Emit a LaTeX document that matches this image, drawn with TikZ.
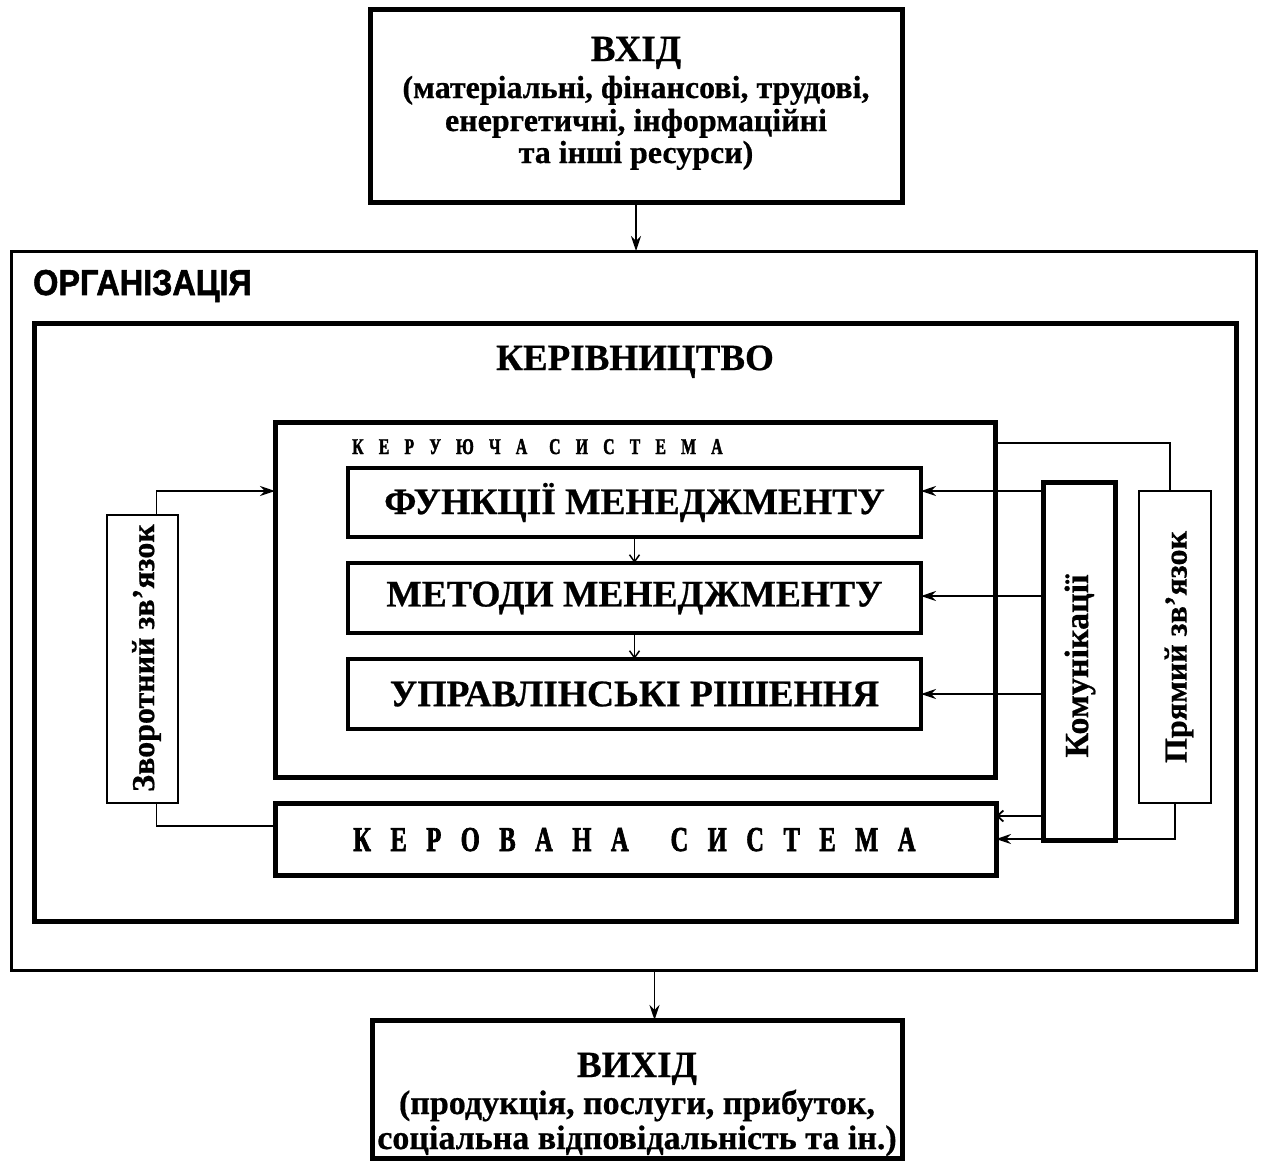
\documentclass[tikz,border=0pt]{standalone}
\usepackage{fontspec}
\setmainfont[BoldFeatures={FakeBold=0.6}]{Liberation Serif}
\newfontfamily\orgfont[FakeStretch=0.9,FakeBold=1.6]{Liberation Sans Bold}
\newfontfamily\condserif[FakeStretch=0.7,FakeBold=1.8]{Liberation Serif Bold}
\usetikzlibrary{arrows.meta}
\newcommand{\mysg}{\hspace{15.2pt}}
\newcommand{\mybg}{\hspace{22pt}}
\newcommand{\mysG}{\hspace{19.5pt}}
\newcommand{\mybG}{\hspace{42pt}}
\begin{document}
\begin{tikzpicture}[x=1pt,y=-1pt,
  box/.style={draw,rectangle,inner sep=0pt,outer sep=0pt,font=\bfseries},
  thickbox/.style={box,line width=5pt},
  midbox/.style={box,line width=3.5pt},
  thinbox/.style={box,line width=2pt},
  conn/.style={line width=1.8pt},
  arr/.style={conn,-{Stealth[length=15pt,width=10pt,inset=5pt]}},
  sarr/.style={line width=1.5pt,-{Straight Barb[length=7pt,width=10pt]}},
  fs/.style={font=\fontsize{#1}{#1}\selectfont\bfseries},
  txt/.style={inner sep=0pt,anchor=base,fs=#1}
]
\useasboundingbox (0,0) rectangle (1266,1162);
\coordinate (y443) at (0,443);
\coordinate (y491) at (0,491);
\coordinate (y596) at (0,596);
\coordinate (y694) at (0,694);
\coordinate (y816) at (0,816);
\coordinate (y839) at (0,839);
\coordinate (y826) at (0,826);

% input box
\node[thickbox,minimum width=532pt,minimum height=193pt] (vhid) at (636,105.5) {};
\node[txt=37] (vhid1) at (636,61) {ВХІД};
\node[txt=32] (vhid2) at (636,98) {(матеріальні, фінансові, трудові,};
\node[txt=32] (vhid3) at (636,131) {енергетичні, інформаційні};
\node[txt=32] (vhid4) at (636,163) {та інші ресурси)};

% organisation
\node[box,line width=3pt,minimum width=1245pt,minimum height=719pt] (org) at (633.5,610.5) {};
\node[anchor=base west,inner sep=0pt,font=\orgfont\fontsize{36}{36}\selectfont] (orgt) at (33,295) {ОРГАНІЗАЦІЯ};
\node[thickbox,minimum width=1202pt,minimum height=598pt] (kerivn) at (635,622) {};
\node[txt=37] (kerivnt) at (635,370) {КЕРІВНИЦТВО};

% control system
\node[thickbox,minimum width=720pt,minimum height=355pt] (kersys) at (635,599.5) {};
\node[anchor=base west,inner sep=0pt,font=\condserif\fontsize{22.5}{22.5}\selectfont] (kersyst) at (352,454)
  {К\mysg Е\mysg Р\mysg У\mysg Ю\mysg Ч\mysg А\mybg С\mysg И\mysg С\mysg Т\mysg Е\mysg М\mysg А};
\node[midbox,fs=37.5,minimum width=573pt,minimum height=69pt] (f1) at (634.5,502.5) {ФУНКЦІЇ МЕНЕДЖМЕНТУ};
\node[midbox,fs=37.5,minimum width=573pt,minimum height=70pt] (f2) at (634.5,598) {МЕТОДИ МЕНЕДЖМЕНТУ};
\node[midbox,fs=37.5,minimum width=573pt,minimum height=70pt] (f3) at (634.5,694) {УПРАВЛІНСЬКІ РІШЕННЯ};

% managed system
\node[thickbox,minimum width=721pt,minimum height=72pt] (keruv) at (635.5,839) {};
\node[anchor=base west,inner sep=0pt,font=\condserif\fontsize{35}{35}\selectfont] (keruvt) at (353,851)
  {К\mysG Е\mysG Р\mysG О\mysG В\mysG А\mysG Н\mysG А\mybG С\mysG И\mysG С\mysG Т\mysG Е\mysG М\mysG А};

% side boxes
\node[thickbox,minimum width=72pt,minimum height=358pt] (komun) at (1079,661) {};
\node[fs=34,rotate=90] (komunt) at (1080,666) {Комунікації};
\node[thinbox,minimum width=72pt,minimum height=312pt] (pryam) at (1175,647) {};
\node[fs=32,rotate=90] (pryamt) at (1179,647) {Прямий зв’язок};
\node[thinbox,minimum width=71pt,minimum height=288pt] (zvor) at (142.5,659) {};
\node[fs=32,rotate=90] (zvort) at (146.5,658) {Зворотний зв’язок};

% output box
\node[thickbox,minimum width=530pt,minimum height=138pt] (vyhid) at (637,1089) {};
\node[txt=37] (vyhid1) at (637,1077) {ВИХІД};
\node[txt=34] (vyhid2) at (637,1114) {(продукція, послуги, прибуток,};
\node[txt=34] (vyhid3) at (637,1149) {соціальна відповідальність та ін.)};

% connectors
\draw[arr] (vhid.south) -- (vhid.south |- org.north);
\draw[arr] ([xshift=21pt]org.south) -- ([xshift=21pt]org.south |- vyhid.north);
\draw[sarr] (f1.south) -- (f2.north);
\draw[sarr] (f2.south) -- (f3.north);
\draw[conn] (kersys.east |- y443) -| ([xshift=-5pt]pryam.north);
\draw[arr] (komun.west |- y491) -- (f1.east |- y491);
\draw[arr] (komun.west |- y596) -- (f2.east |- y596);
\draw[arr] (komun.west |- y694) -- (f3.east |- y694);
\draw[conn,-{Straight Barb[length=6pt,width=11pt]}] (komun.west |- y816) -- (keruv.east |- y816);
\draw[arr] (pryam.south) |- (keruv.east |- y839);
\draw[arr] ([xshift=14pt]zvor.north) |- (kersys.west |- y491);
\draw[conn] ([xshift=14pt]zvor.south) |- (keruv.west |- y826);
\end{tikzpicture}
\end{document}
